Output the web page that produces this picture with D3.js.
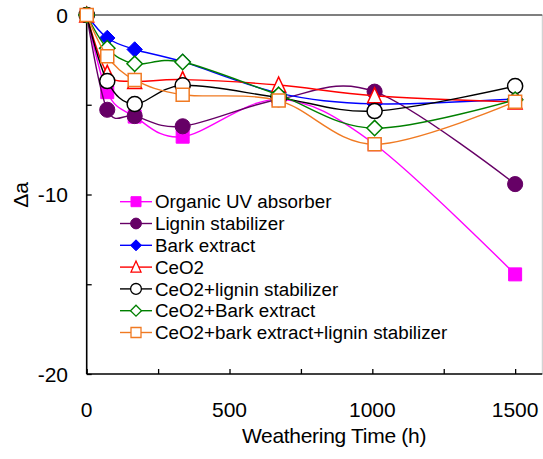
<!DOCTYPE html>
<html><head><meta charset="utf-8">
<script src="https://cdn.jsdelivr.net/npm/d3@7"></script>
<style>body{margin:0;background:#fff}svg{display:block}text{font-family:"Liberation Sans",Arial,sans-serif;fill:#000}</style>
</head><body><svg id="c" width="543" height="459"></svg>
<script>
const hours = [0, 72, 168, 336, 672, 1008, 1500];
const seriesNames = ["Organic UV absorber","Lignin stabilizer","Bark extract","CeO2","CeO2+lignin stabilizer","CeO2+Bark extract","CeO2+bark extract+lignin stabilizer"];
const organicUV   = [0, -4.3, -5.66, -6.78, -4.7, -7.2, -14.45];
const lignin      = [0, -5.28, -5.63, -6.2, -4.7, -4.27, -9.42];
const bark        = [0, -1.28, -1.92, -2.6, -4.35, -4.95, -4.68];
const ceo2        = [0, -3.25, -3.7, -3.6, -3.9, -4.5, -4.85];
const ceo2Lignin  = [0, -3.68, -4.96, -3.92, -4.6, -5.35, -3.96];
const ceo2Bark    = [0, -1.85, -2.72, -2.62, -4.45, -6.3, -4.72];
const ceo2All     = [0, -2.3, -3.62, -4.44, -4.77, -7.2, -4.83];
const xTicks = [0, 500, 1000, 1500];
const yTicks = [0, -10, -20];
const values = [organicUV, lignin, bark, ceo2, ceo2Lignin, ceo2Bark, ceo2All];
const colors = ["#FF00FF","#660066","#0000FF","#FF0000","#000000","#008000","#F07A22"];
const shapes = ["square","circle","diamond","triangle","circle","diamond","square"];
const filled = [true,true,true,false,false,false,false];

const svg = d3.select("#c");
const x = d3.scaleLinear().domain([0,1600]).range([86.7, 543.7]);
const y = d3.scaleLinear().domain([-20,0]).range([374, 15]);

function shapePath(shape, s){
  const h = s/2;
  if(shape==="square") return `M${-h},${-h}H${h}V${h}H${-h}Z`;
  if(shape==="circle") return d3.arc()({innerRadius:0,outerRadius:h*1.08,startAngle:0,endAngle:2*Math.PI});
  if(shape==="diamond"){const d=h*1.1;return `M0,${-d}L${d},0L0,${d}L${-d},0Z`;}
  if(shape==="triangle") return `M0,${-h-1}L${h},${h}L${-h},${h}Z`;
}

// plot frame right boundary
svg.append("line").attr("x1",542.3).attr("x2",542.3).attr("y1",y(0)).attr("y2",y(-20)).attr("stroke","#c8c8c8").attr("stroke-width",1);
// top zero line
svg.append("line").attr("x1",x(0)).attr("x2",542.3).attr("y1",y(0)).attr("y2",y(0)).attr("stroke","#555").attr("stroke-width",1.6);

// bottom axis
const xAxis = d3.axisBottom(x).tickValues(d3.range(0,1600,250)).tickSize(-5).tickFormat("");
const gx = svg.append("g").attr("transform",`translate(0,${y(-20)})`).call(xAxis);
gx.select(".domain").attr("d",`M${x(0)},0H542.3`).attr("stroke","#000").attr("stroke-width",1.6);
gx.selectAll(".tick line").attr("stroke","#000").attr("stroke-width",1.3);
svg.selectAll(".xl").data(xTicks).join("text").attr("x",d=>x(d)).attr("y",417).attr("text-anchor","middle").attr("font-size",21).text(d=>d);

// left axis
const yAxis = d3.axisLeft(y).tickValues(d3.range(-20,1,5)).tickSize(-5).tickFormat("");
const gy = svg.append("g").attr("transform",`translate(${x(0)},0)`).call(yAxis);
gy.select(".domain").attr("d",`M0,${y(0)}V${y(-20)}`).attr("stroke","#000").attr("stroke-width",1.6);
gy.selectAll(".tick line").attr("stroke","#000").attr("stroke-width",1.3);
svg.selectAll(".yl").data(yTicks).join("text").attr("x",68).attr("y",d=>y(d)).attr("dy","0.36em").attr("text-anchor","end").attr("font-size",21).text(d=>d);

svg.append("text").attr("x",334).attr("y",443).attr("text-anchor","middle").attr("font-size",21).attr("letter-spacing","-0.3").text("Weathering Time (h)");
svg.append("text").attr("transform","translate(28,195) rotate(-90)").attr("text-anchor","middle").attr("font-size",21).text("Δa");

const line = d3.line().x(d=>x(d[0])).y(d=>y(d[1])).curve(d3.curveCardinal.tension(0));
values.forEach((vals,i)=>{
  const pts = hours.map((h,j)=>[h, vals[j]]);
  const g = svg.append("g");
  g.append("path").attr("d",line(pts)).attr("fill","none").attr("stroke",colors[i]).attr("stroke-width",1.4);
  const size = shapes[i]==="square" ? 13 : 14;
  g.selectAll("path.m").data(pts).join("path").attr("class","m")
    .attr("transform",d=>`translate(${x(d[0])},${y(d[1])})`)
    .attr("d",shapePath(shapes[i], size))
    .attr("fill",filled[i]?colors[i]:"#fff").attr("stroke",colors[i]).attr("stroke-width",filled[i]?1:1.5);
});

// legend
const leg = svg.append("g");
seriesNames.forEach((name,i)=>{
  const cy = 201.7 + i*21.8;
  leg.append("line").attr("x1",120).attr("x2",152).attr("y1",cy).attr("y2",cy).attr("stroke",colors[i]).attr("stroke-width",1.4);
  leg.append("path").attr("transform",`translate(136,${cy})`).attr("d",shapePath(shapes[i],10))
    .attr("fill",filled[i]?colors[i]:"#fff").attr("stroke",colors[i]).attr("stroke-width",filled[i]?1:1.3);
  leg.append("text").attr("x",155).attr("y",cy).attr("dy","0.36em").attr("font-size",18.8).text(name);
});
</script></body></html>
